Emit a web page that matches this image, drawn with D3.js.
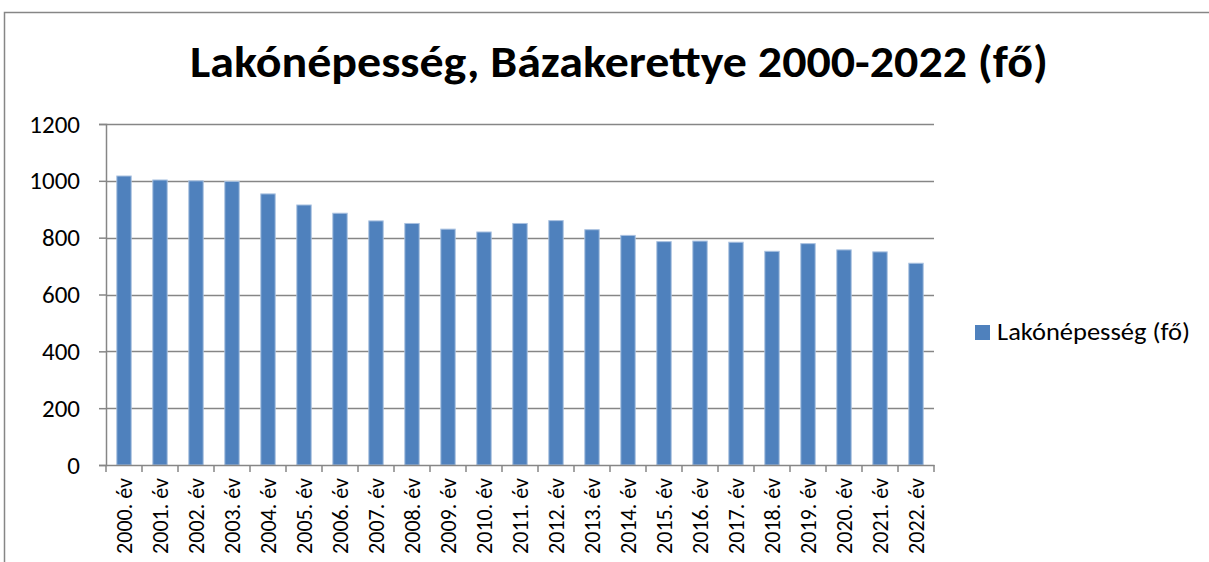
<!DOCTYPE html>
<html>
<head>
<meta charset="utf-8">
<script src="https://cdn.jsdelivr.net/npm/d3@7"></script>
<style>
  body { margin: 0; background: #fff; }
  svg { display: block; font-family: Calibri, Carlito, "Liberation Sans", "DejaVu Sans", sans-serif; }
</style>
</head>
<body>
<svg width="1209" height="562"></svg>
<script>
(function(d3) {
    'use strict';

    const years = ['2000. év', '2001. év', '2002. év', '2003. év', '2004. év', '2005. év',
        '2006. év', '2007. év', '2008. év', '2009. év', '2010. év', '2011. év', '2012. év',
        '2013. év', '2014. év', '2015. év', '2016. év', '2017. év', '2018. év', '2019. év',
        '2020. év', '2021. év', '2022. év'];
    const population = [1017, 1003, 1000, 998, 954, 915, 886, 859, 850, 830, 820, 850,
        860, 828, 808, 786, 788, 784, 752, 779, 757, 750, 710];
    const yTicks = [0, 200, 400, 600, 800, 1000, 1200];
    const title = 'Lakónépesség, Bázakerettye 2000-2022 (fő)';
    const seriesName = 'Lakónépesség (fő)';

    const svg = d3.select('svg');
    const grey = '#868686';

    // chart frame (cut off on the right and bottom)
    svg.append('path')
        .attr('d', 'M4.5,562 V12.5 H1209')
        .attr('fill', 'none')
        .attr('stroke', grey)
        .attr('stroke-width', 1.5);

    svg.append('text')
        .attr('x', 619)
        .attr('y', 77)
        .attr('text-anchor', 'middle')
        .attr('font-size', 44)
        .attr('font-weight', 'bold')
        .attr('textLength', 858)
        .attr('lengthAdjust', 'spacingAndGlyphs')
        .text(title);

    const left = 106, right = 934, top = 124, bottom = 465;

    const x = d3.scaleBand()
        .domain(years)
        .range([left, right])
        .paddingInner(0.6)
        .paddingOuter(0.3);

    const y = d3.scaleLinear()
        .domain([0, 1200])
        .range([bottom, top]);

    // gridlines
    svg.append('g')
        .selectAll('line')
        .data(yTicks.filter(d => d > 0))
        .enter().append('line')
        .attr('x1', left)
        .attr('x2', right)
        .attr('y1', d => Math.round(y(d)) + 0.5)
        .attr('y2', d => Math.round(y(d)) + 0.5)
        .attr('stroke', grey)
        .attr('stroke-width', 1.5);

    // bars
    svg.append('g')
        .selectAll('rect')
        .data(population)
        .enter().append('rect')
        .attr('x', (d, i) => x(years[i]))
        .attr('width', x.bandwidth())
        .attr('y', d => y(d))
        .attr('height', d => bottom - y(d))
        .attr('fill', '#4f81bd')
        .attr('stroke', '#a9c1e0')
        .attr('stroke-width', 1);

    // y axis
    const yAxis = svg.append('g')
        .attr('transform', `translate(${left},0)`)
        .call(d3.axisLeft(y).tickValues(yTicks).tickSize(7).tickPadding(19).tickFormat(d3.format('d')));
    yAxis.select('.domain').attr('stroke', grey).attr('stroke-width', 1.5);
    yAxis.selectAll('.tick line').attr('stroke', grey).attr('stroke-width', 1.5);
    yAxis.selectAll('.tick text')
        .attr('font-size', 25)
        .attr('font-family', 'Calibri, Carlito, "Liberation Sans", sans-serif')
        .attr('fill', '#000');

    // x axis
    const xAxis = svg.append('g')
        .attr('transform', `translate(0,${bottom})`)
        .call(d3.axisBottom(x).tickSize(0).tickPadding(0));
    xAxis.select('.domain').attr('stroke', grey).attr('stroke-width', 1.5);
    xAxis.selectAll('.tick text')
        .attr('transform', 'rotate(-90)')
        .attr('text-anchor', 'end')
        .attr('x', -13)
        .attr('y', 0)
        .attr('dy', '0.35em')
        .attr('font-size', 22)
        .attr('font-family', 'Calibri, Carlito, "Liberation Sans", sans-serif')
        .attr('fill', '#000');

    // category separators under the axis
    const step = x.step();
    svg.append('g')
        .selectAll('line')
        .data(d3.range(years.length + 1))
        .enter().append('line')
        .attr('x1', i => left + i * step)
        .attr('x2', i => left + i * step)
        .attr('y1', bottom)
        .attr('y2', bottom + 7)
        .attr('stroke', grey)
        .attr('stroke-width', 1.5);

    // legend
    const legend = svg.append('g').attr('transform', 'translate(975,325)');
    legend.append('rect')
        .attr('width', 15)
        .attr('height', 15)
        .attr('fill', '#4f81bd');
    legend.append('text')
        .attr('x', 22)
        .attr('y', 15)
        .attr('font-size', 24)
        .attr('textLength', 193)
        .attr('lengthAdjust', 'spacingAndGlyphs')
        .text(seriesName);
}(d3));
</script>
</body>
</html>
